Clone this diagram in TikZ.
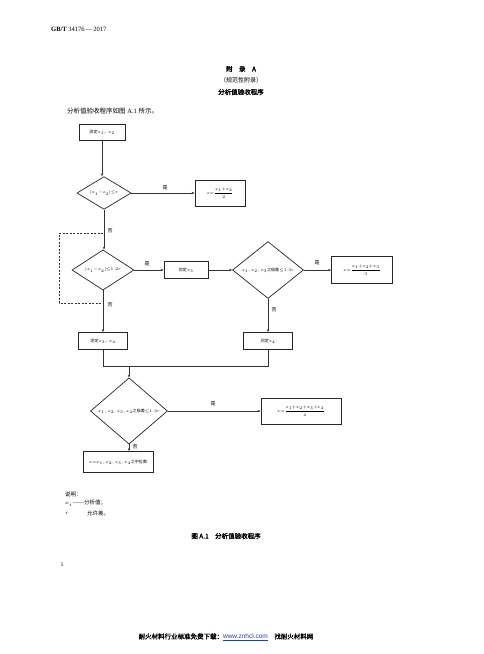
\documentclass[tikz,border=0pt]{standalone}
\usepackage{amsmath}
\usepackage{graphicx}
\usepackage{fontspec}
\usetikzlibrary{shapes.geometric,arrows.meta}
\setmainfont{Liberation Serif}
\newfontfamily\cjk{Noto Sans CJK SC}
\newfontfamily\cjkb[FakeBold=1.5]{Noto Sans CJK SC}
\definecolor{linkblue}{RGB}{30,60,200}
\newcommand{\cm}{{\cjk ，}}
\newcommand{\sm}[1]{\scalebox{0.82}{#1}}
\tikzset{
  fs/.style={font=\fontsize{5}{6}\selectfont},
  boxn/.style={draw=black!85, line width=0.8pt, fill=white, inner sep=1pt, fs},
  dia/.style={draw=black!85, line width=0.7pt, shape=diamond, inner sep=0pt, fs},
  arr/.style={draw=black!80, line width=0.5pt, -{Stealth[length=3pt,width=2.4pt]}},
  ln/.style={draw=black!80, line width=0.5pt},
  lab/.style={font=\fontsize{5}{6}\selectfont\cjk, inner sep=0pt},
}
\begin{document}
\begin{tikzpicture}[x=1pt,y=-1pt]
\fill[white] (0,0) rectangle (483,654);
\useasboundingbox (0,0) rectangle (483,654);

% header
\node[anchor=west, inner sep=0pt, font=\fontsize{6.5}{7}\selectfont] (hdr) at (51,29) {\textbf{GB/T} 34176\,—\,2017};
\node[inner sep=0pt, font=\fontsize{6.5}{7}\selectfont\cjkb] (t1) at (241,69) {附\quad 录\quad A};
\node[inner sep=0pt, font=\fontsize{6}{7}\selectfont\cjk] (t2) at (241,80) {（规范性附录）};
\node[inner sep=0pt, font=\fontsize{6.5}{7}\selectfont\cjkb] (t3) at (241,92) {分析值验收程序};
\node[anchor=west, inner sep=0pt, font=\fontsize{6.5}{7}\selectfont] (intro) at (67,111) {{\cjk 分析值验收程序如图} A.1 {\cjk 所示。}};

% flow chart
\node[boxn, minimum width=46pt, minimum height=16pt] (b1) at (102,132) {\sm{{\cjk 测定}$x_1$\cm$x_2$}};
\node[dia, minimum width=54pt, minimum height=31pt] (d1) at (104,193) {\sm{$|x_1{-}x_2|{\le}r$}};
\node[boxn, minimum width=50pt, minimum height=26pt] (r1) at (220,193) {\sm{$x{=}\dfrac{x_1{+}x_2}{2}$}};

\node[dia, minimum width=62pt, minimum height=34pt] (d2) at (103,270) {\sm{$|x_1{-}x_2|{\le}1.2r$}};
\node[boxn, minimum width=44pt, minimum height=17pt] (bx3) at (186,270) {\sm{{\cjk 测定}$x_3$}};
\node[dia, minimum width=71pt, minimum height=40pt] (d3) at (268,270) {\sm{$x_1,x_2,x_3${\cjk 之极差}${\le}1.3r$}};
\node[boxn, minimum width=61pt, minimum height=27pt] (r2) at (362,270) {\sm{$x{=}\dfrac{x_1{+}x_2{+}x_3}{3}$}};

\node[boxn, minimum width=49pt, minimum height=17pt] (b3) at (103,341) {\sm{{\cjk 测定}$x_3$\cm$x_4$}};
\node[boxn, minimum width=49pt, minimum height=17pt] (b4) at (268,341) {\sm{{\cjk 测定}$x_4$}};

\node[dia, minimum width=77pt, minimum height=48pt] (d4) at (129,411) {\sm{$x_1,x_2,x_3,x_4${\cjk 之极差}${\le}1.3r$}};
\node[boxn, minimum width=80pt, minimum height=26pt] (r3) at (301,411) {\sm{$x{=}\dfrac{x_1{+}x_2{+}x_3{+}x_4}{4}$}};
\node[boxn, minimum width=70pt, minimum height=21pt] (fin) at (118,462) {\sm{$x{=}x_1,x_2,x_3,x_4${\cjk 之中位数}}};

% connectors
\draw[arr] (b1) -- (b1 |- d1.north);
\draw[arr] (d1.east) -- (r1.west);
\draw[arr] (d1.south) -- (d1.south |- d2.north);
\draw[arr] (d2.east) -- (bx3.west);
\draw[arr] (bx3.east) -- (d3.west);
\draw[arr] (d3.east) -- (r2.west);
\draw[arr] (d3.south) -- (b4.north);
\draw[arr] (d2.south) -- (b3.north);
\coordinate (j1) at (103,366);
\coordinate (j2) at (268,366);
\coordinate (jm) at (129,366);
\draw[ln] (b3.south) -- (j1) -- (j2) -- (b4.south);
\draw[arr] (jm) -- (d4.north);
\draw[arr] (d4.east) -- (r3.west);
\draw[arr] (d4.south) -- (d4.south |- fin.north);

% dashed loop
\coordinate (da) at (103,233);
\coordinate (db) at (59,233);
\coordinate (dc) at (59,303);
\coordinate (dd) at (103,303);
\draw[ln, dashed, dash pattern=on 2pt off 1.5pt] (da) -- (db) -- (dc) -- (dd);

% labels
\node[lab] (l1) at (165,188) {是};
\node[lab] (l2) at (110,231) {否};
\node[lab] (l3) at (147,264) {是};
\node[lab] (l4) at (110,305) {否};
\node[lab] (l5) at (317,263) {是};
\node[lab] (l6) at (274,310) {否};
\node[lab] (l7) at (213,404) {是};
\node[lab] (l8) at (135,447) {否};

% notes
\node[anchor=west, inner sep=0pt, font=\fontsize{5.5}{6}\selectfont\cjk] (n0) at (65,494) {说明：};
\node[anchor=west, inner sep=0pt, font=\fontsize{5.5}{6}\selectfont] (n1) at (65,503) {$x_i$\,——{\cjk 分析值；}};
\node[anchor=west, inner sep=0pt, font=\fontsize{5.5}{6}\selectfont] (n2) at (65,513) {$r$};
\node[anchor=west, inner sep=0pt, font=\fontsize{5.5}{6}\selectfont\cjk] (n3) at (87,513) {允许差。};
\node[inner sep=0pt, font=\fontsize{6.5}{7}\selectfont\cjkb] (cap) at (226,536) {图 A.1\quad 分析值验收程序};

% page number and footer
\node[inner sep=0pt, font=\fontsize{5}{6}\selectfont] (pg) at (62,565) {5};
\node[inner sep=0pt, font=\fontsize{6.5}{7}\selectfont] (ft) at (226,637) {{\cjkb 耐火材料行业标准免费下载：}\textcolor{linkblue}{\underline{\fontspec{Liberation Sans}www.znhcl.com}}\quad{\cjkb 找耐火材料网}};
\end{tikzpicture}
\end{document}
